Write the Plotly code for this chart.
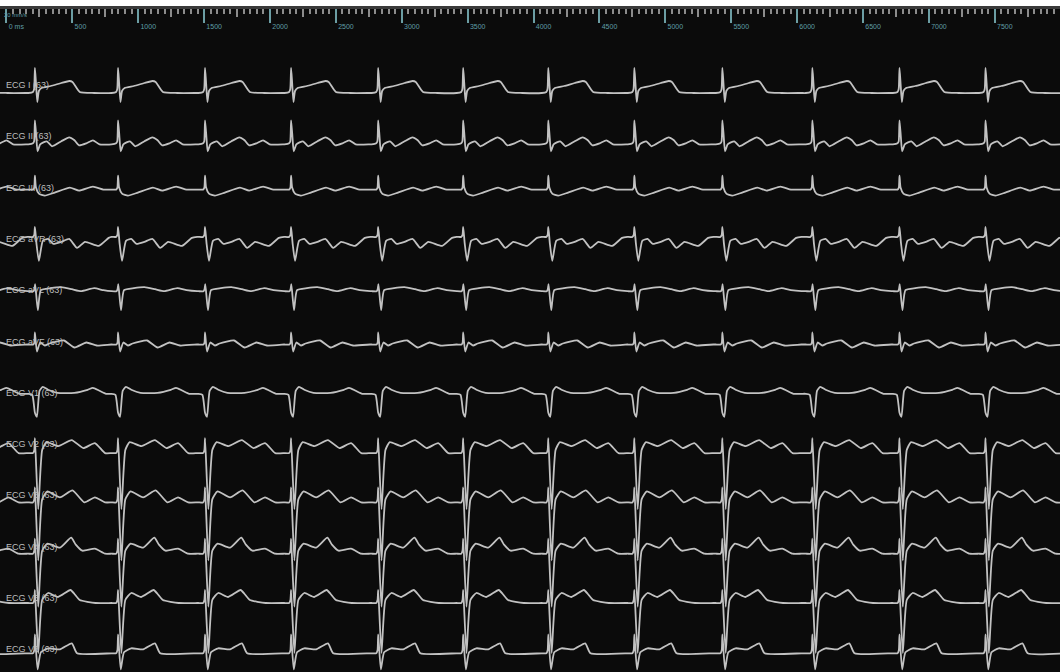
import plotly.graph_objects as go

# ---------------- data ----------------
LEAD_NAMES = ["ECG I (63)", "ECG II (63)", "ECG III (63)", "ECG aVR (63)", "ECG aVL (63)",
              "ECG aVF (63)", "ECG V1 (63)", "ECG V2 (63)", "ECG V3 (63)", "ECG V4 (63)",
              "ECG V5 (63)", "ECG V6 (63)"]

# R-peak times (ms) of the beats visible on the strip
BEAT_MS = [-440, 216, 847, 1507, 2160, 2821, 3466, 4112, 4765, 5433, 6116, 6777, 7430]

# per-lead beat shape: (ms relative to R peak, amplitude in display units)
LEAD_I = [(-50, -8), (-15, -7), (-6, -4), (0, 17), (8, 2), (18, -17), (30, -6), (50, -3),
          (120, -1), (200, 2), (262, 4), (285, 3), (340, -7), (450, -8), (600, -8)]
LEAD_II = [(-50, -8), (-15, -7), (-6, -5), (0, 16), (10, 0), (20, -15), (40, -8), (90, -5),
           (130, -10), (200, -5), (260, -1), (300, -4), (335, -9), (390, -7), (440, -4),
           (490, -8), (600, -8)]
LEAD_III = [(-50, -2), (-15, -2), (-5, 0), (0, 12), (8, 0), (30, -6), (75, -8), (150, -5),
            (265, 0), (335, -3), (440, 1), (520, -2), (600, -2)]
LEAD_AVR = [(-50, 2), (-15, 2), (-5, 4), (0, 12), (12, -5), (30, -22), (60, -2), (100, 0),
            (140, -5), (200, -3), (260, 0), (320, -9), (380, -3), (485, -7), (560, 1), (600, 2)]
LEAD_AVL = [(-50, -1), (-12, -1), (-4, 1), (2, 6), (22, -20), (45, 0), (120, 2), (200, 3),
            (280, 1), (350, -1), (450, 2), (520, 0), (600, -1)]
LEAD_AVF = [(-50, -3), (-12, -3), (-4, -1), (0, 9), (15, -10), (40, -1), (75, -4), (110, -2),
            (220, 1), (300, -6), (390, -1), (470, -4), (600, -3)]
LEAD_V1 = [(-50, -1), (-20, -2), (0, -20), (15, -24), (35, 2), (60, 6), (100, 3), (170, 0),
           (300, 0), (400, 3), (440, 5), (490, 2), (540, -1), (600, -1)]
LEAD_V2 = [(-50, -9), (-15, -9), (-5, -6), (0, 6), (25, -65), (55, -6), (88, 2), (177, -2),
           (279, 4), (367, -4), (455, 1), (532, -9), (600, -9)]
LEAD_V3 = [(-50, -7), (-15, -7), (-5, -4), (0, 8), (25, -65), (55, -4), (95, 4), (190, -2),
           (285, 5), (375, -7), (455, -2), (532, -7), (600, -7)]
LEAD_V4 = [(-50, -7), (-15, -7), (-5, -4), (0, 8), (25, -60), (55, -4), (95, 3), (190, -1),
           (275, 9), (310, 2), (360, -4), (455, -2), (532, -7), (600, -7)]
LEAD_V5 = [(-50, -5), (-15, -5), (-5, -2), (0, 8), (25, -55), (55, -2), (100, 5), (175, 1),
           (270, 8), (300, 4), (340, -2), (460, -5), (600, -5)]
LEAD_V6 = [(-50, -4), (-15, -4), (-5, -1), (0, 15), (20, -20), (45, -3), (100, 1), (190, 0),
           (280, 6), (320, -4), (600, -4)]

LEAD_SHAPES = [LEAD_I, LEAD_II, LEAD_III, LEAD_AVR, LEAD_AVL, LEAD_AVF,
               LEAD_V1, LEAD_V2, LEAD_V3, LEAD_V4, LEAD_V5, LEAD_V6]

TICK_MS = list(range(0, 8001, 500))
TICK_TEXT = ["0 ms"] + [str(v) for v in TICK_MS[1:]]
MID_TICK_MS = list(range(250, 8001, 500))

# ---------------- style / layout ----------------
W, H = 1060, 672
TOP = 9
LEAD_GAP = 51.3
FIRST_LEAD_PX = 85
Y_MAX = FIRST_LEAD_PX - TOP
Y_MIN = Y_MAX - (H - TOP)
TRACE_COLOR = "#c2c2c2"
TEAL = "#5f9ea6"

fig = go.Figure()

for i, (name, shape) in enumerate(zip(LEAD_NAMES, LEAD_SHAPES)):
    base = -i * LEAD_GAP
    xs, ys = [], []
    for k, b in enumerate(BEAT_MS):
        nxt = BEAT_MS[k + 1] + shape[0][0] if k + 1 < len(BEAT_MS) else 1e9
        for t, a in shape:
            if b + t < nxt:
                xs.append(b + t)
                ys.append(base + a)
    fig.add_trace(go.Scatter(x=xs, y=ys, mode="lines", name=name,
                             line=dict(color=TRACE_COLOR, width=1.8, shape="spline", smoothing=0.5),
                             hoverinfo="skip", showlegend=False))
    fig.add_annotation(x=0.004, xref="paper", y=base, yref="y", text=name, showarrow=False,
                       xanchor="left", yanchor="middle",
                       font=dict(family="Liberation Sans, Arial", size=9, color="#bdbdbd"))

# "20 mm/s" paper speed label
fig.add_annotation(x=0.002, xref="paper", y=1 - 6 / (H - TOP), yref="paper", text="20 mm/s",
                   showarrow=False, xanchor="left", yanchor="middle",
                   font=dict(family="Liberation Sans, Arial", size=6, color=TEAL))

fig.update_layout(
    width=W, height=H,
    margin=dict(l=0, r=0, t=TOP, b=0, pad=0),
    paper_bgcolor="white",
    plot_bgcolor="#0b0b0b",
    xaxis=dict(range=[-49, 7995], side="top", showline=True, linecolor="#3a3a3a", linewidth=3,
               ticks="inside", ticklen=14, tickwidth=1.5, tickcolor="#6c9ea4",
               tickvals=TICK_MS, ticktext=TICK_TEXT, ticklabelposition="inside right",
               ticklabelstandoff=11,
               tickfont=dict(family="Liberation Sans, Arial", size=7, color=TEAL),
               showgrid=False, zeroline=False, automargin=False,
               minor=dict(dtick=50, tick0=0, ticks="inside", ticklen=5, tickwidth=1.5,
                          tickcolor="#8c8c8c", showgrid=False)),
    xaxis2=dict(overlaying="x", matches="x", side="top", ticks="inside", ticklen=8,
                tickwidth=1.5, tickcolor="#8c8c8c", tickvals=MID_TICK_MS,
                showticklabels=False, showgrid=False, zeroline=False, showline=False,
                automargin=False),
    yaxis=dict(range=[Y_MIN, Y_MAX], visible=False, showgrid=False, zeroline=False),
)
# invisible trace to activate xaxis2
fig.add_trace(go.Scatter(x=[0], y=[Y_MIN - 100], xaxis="x2", mode="markers",
                         marker=dict(opacity=0), hoverinfo="skip", showlegend=False))

fig.write_html("out.html", config={"displayModeBar": False},
               post_script="document.body.style.margin='0';document.body.style.overflow='hidden';")
